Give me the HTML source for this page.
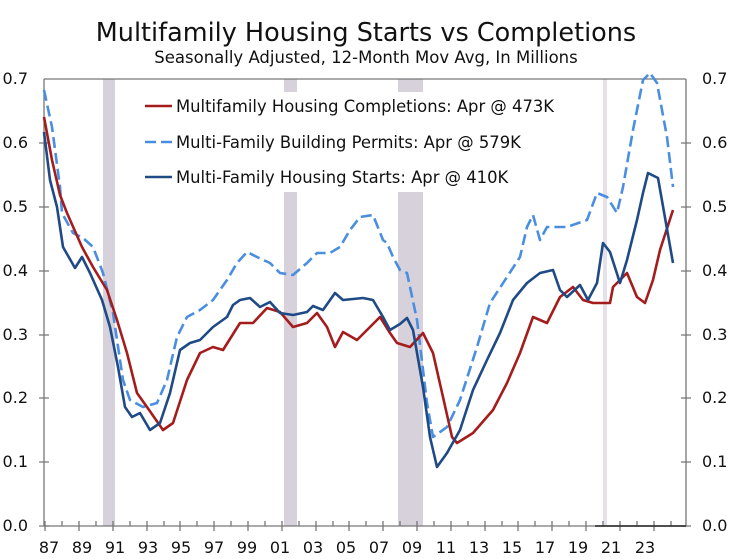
<!DOCTYPE html>
<html><head><meta charset="utf-8"><style>
body{margin:0;background:#fff;}
svg{display:block;font-family:"DejaVu Sans","Liberation Sans",sans-serif;}
</style></head><body>
<svg width="729" height="559" viewBox="0 0 729 559">
<rect width="729" height="559" fill="#fff"/>
<text x="366" y="41" font-size="25.5" text-anchor="middle" fill="#111">Multifamily Housing Starts vs Completions</text>
<text x="366" y="63" font-size="16.5" text-anchor="middle" fill="#111">Seasonally Adjusted, 12-Month Mov Avg, In Millions</text>
<!-- recessions -->
<g fill="#d6d1da">
<rect x="103" y="79" width="12" height="447"/>
<rect x="284" y="79" width="13" height="447"/>
<rect x="398" y="79" width="25" height="447"/>
<rect x="603" y="79" width="4" height="447" fill="#e4e1e8"/>
</g>
<rect x="140" y="92" width="436" height="100" fill="#fff"/>
<!-- axes -->
<g stroke="#777" stroke-width="1.3" fill="none">
<line x1="44" y1="79" x2="686" y2="79"/>
<line x1="44" y1="79" x2="44" y2="526"/>
<line x1="686" y1="79" x2="686" y2="526"/>
<line x1="44" y1="526" x2="686" y2="526"/>
<path d="M39 143H49M39 207H49M39 271H49M39 335H49M39 398H49M39 462H49M39 526H49M681 143H691M681 207H691M681 271H691M681 335H691M681 398H691M681 462H691M681 526H691"/>
<path d="M45 521V531M62 521V526M79 521V531M96 521V526M113 521V531M130 521V526M147 521V531M164 521V526M180 521V531M197 521V526M214 521V531M231 521V526M248 521V531M265 521V526M282 521V531M299 521V526M316 521V531M333 521V526M349 521V531M366 521V526M383 521V531M400 521V526M417 521V531M434 521V526M451 521V531M468 521V526M485 521V531M502 521V526M518 521V531M535 521V526M552 521V531M569 521V526M586 521V531M603 521V526M620 521V531M637 521V526M654 521V531M671 521V526"/>
</g>
<line x1="595" y1="526" x2="686" y2="526" stroke="#222" stroke-width="1.5"/>
<g font-size="16" fill="#111" text-anchor="end">
<text x="28" y="84">0.7</text><text x="28" y="148">0.6</text><text x="28" y="212">0.5</text><text x="28" y="276">0.4</text><text x="28" y="340">0.3</text><text x="28" y="403">0.2</text><text x="28" y="467">0.1</text><text x="28" y="531">0.0</text>
</g>
<g font-size="16" fill="#111">
<text x="702" y="84">0.7</text><text x="702" y="148">0.6</text><text x="702" y="212">0.5</text><text x="702" y="276">0.4</text><text x="702" y="340">0.3</text><text x="702" y="403">0.2</text><text x="702" y="467">0.1</text><text x="702" y="531">0.0</text>
</g>
<g font-size="16" fill="#111" text-anchor="middle">
<text x="49" y="553">87</text><text x="82" y="553">89</text><text x="115" y="553">91</text><text x="148" y="553">93</text><text x="181" y="553">95</text><text x="214" y="553">97</text><text x="247" y="553">99</text><text x="280" y="553">01</text><text x="313" y="553">03</text><text x="346" y="553">05</text><text x="379" y="553">07</text><text x="412" y="553">09</text><text x="446" y="553">11</text><text x="479" y="553">13</text><text x="512" y="553">15</text><text x="545" y="553">17</text><text x="578" y="553">19</text><text x="611" y="553">21</text><text x="645" y="553">23</text>
</g>
<!-- series -->
<g fill="none" stroke-width="2.6" stroke-linejoin="round">
<polyline stroke="#4a8ee0" stroke-dasharray="11,5" points="44,90 52,127 60,187 62,213 73,233 83,238 93,247 103,273 113,313 123,380 130,400 143,407 157,403 167,380 177,337 187,317 200,310 213,300 227,280 237,263 247,252 257,257 270,263 280,273 293,275 307,263 317,253 330,253 340,247 350,230 360,217 373,215 383,240 387,243 393,257 400,270 407,273 417,320 427,403 433,437 447,427 460,400 477,347 490,303 507,277 520,257 527,227 533,215 540,240 547,227 567,227 587,220 597,193 607,197 617,213 623,187 633,130 643,80 650,73 657,83 667,137 673,187"/>
<polyline stroke="#a51c1c" points="44,117 52,160 60,195 67,213 82,247 93,267 107,290 117,320 127,353 137,393 147,407 163,430 173,423 187,380 200,353 213,347 223,350 240,323 253,323 267,308 280,312 293,327 307,323 317,313 327,327 335,347 343,332 357,340 370,327 380,317 390,333 397,343 410,347 423,333 433,353 443,397 452,437 457,443 473,433 493,410 507,383 520,353 533,317 547,323 560,297 573,287 583,300 593,303 610,303 613,287 627,273 637,297 645,303 653,280 660,250 673,210"/>
<polyline stroke="#1f4a85" points="44,132 50,180 57,207 63,247 75,268 82,257 90,273 102,300 110,327 118,367 125,407 132,417 140,413 150,430 160,423 170,393 180,350 190,343 200,340 213,327 227,317 233,305 240,300 250,298 260,307 270,302 280,313 293,315 307,312 313,306 323,310 335,293 343,300 353,299 363,298 373,300 383,317 390,330 400,324 407,318 413,330 423,387 430,437 437,467 447,453 460,430 473,390 487,360 500,333 513,300 527,283 540,273 553,270 560,290 567,297 580,285 588,300 597,283 603,243 610,252 620,283 627,260 637,220 643,193 648,173 658,178 673,263"/>
</g>
<!-- legend -->
<g stroke-width="2.6">
<line x1="145" y1="106" x2="172" y2="106" stroke="#a51c1c"/>
<line x1="145" y1="142" x2="172" y2="142" stroke="#4a8ee0" stroke-dasharray="11,5"/>
<line x1="145" y1="177" x2="172" y2="177" stroke="#1f4a85"/>
</g>
<g font-size="16.4" fill="#111">
<text x="176" y="112">Multifamily Housing Completions: Apr @ 473K</text>
<text x="176" y="148">Multi-Family Building Permits: Apr @ 579K</text>
<text x="176" y="183">Multi-Family Housing Starts: Apr @ 410K</text>
</g>
</svg>
</body></html>
